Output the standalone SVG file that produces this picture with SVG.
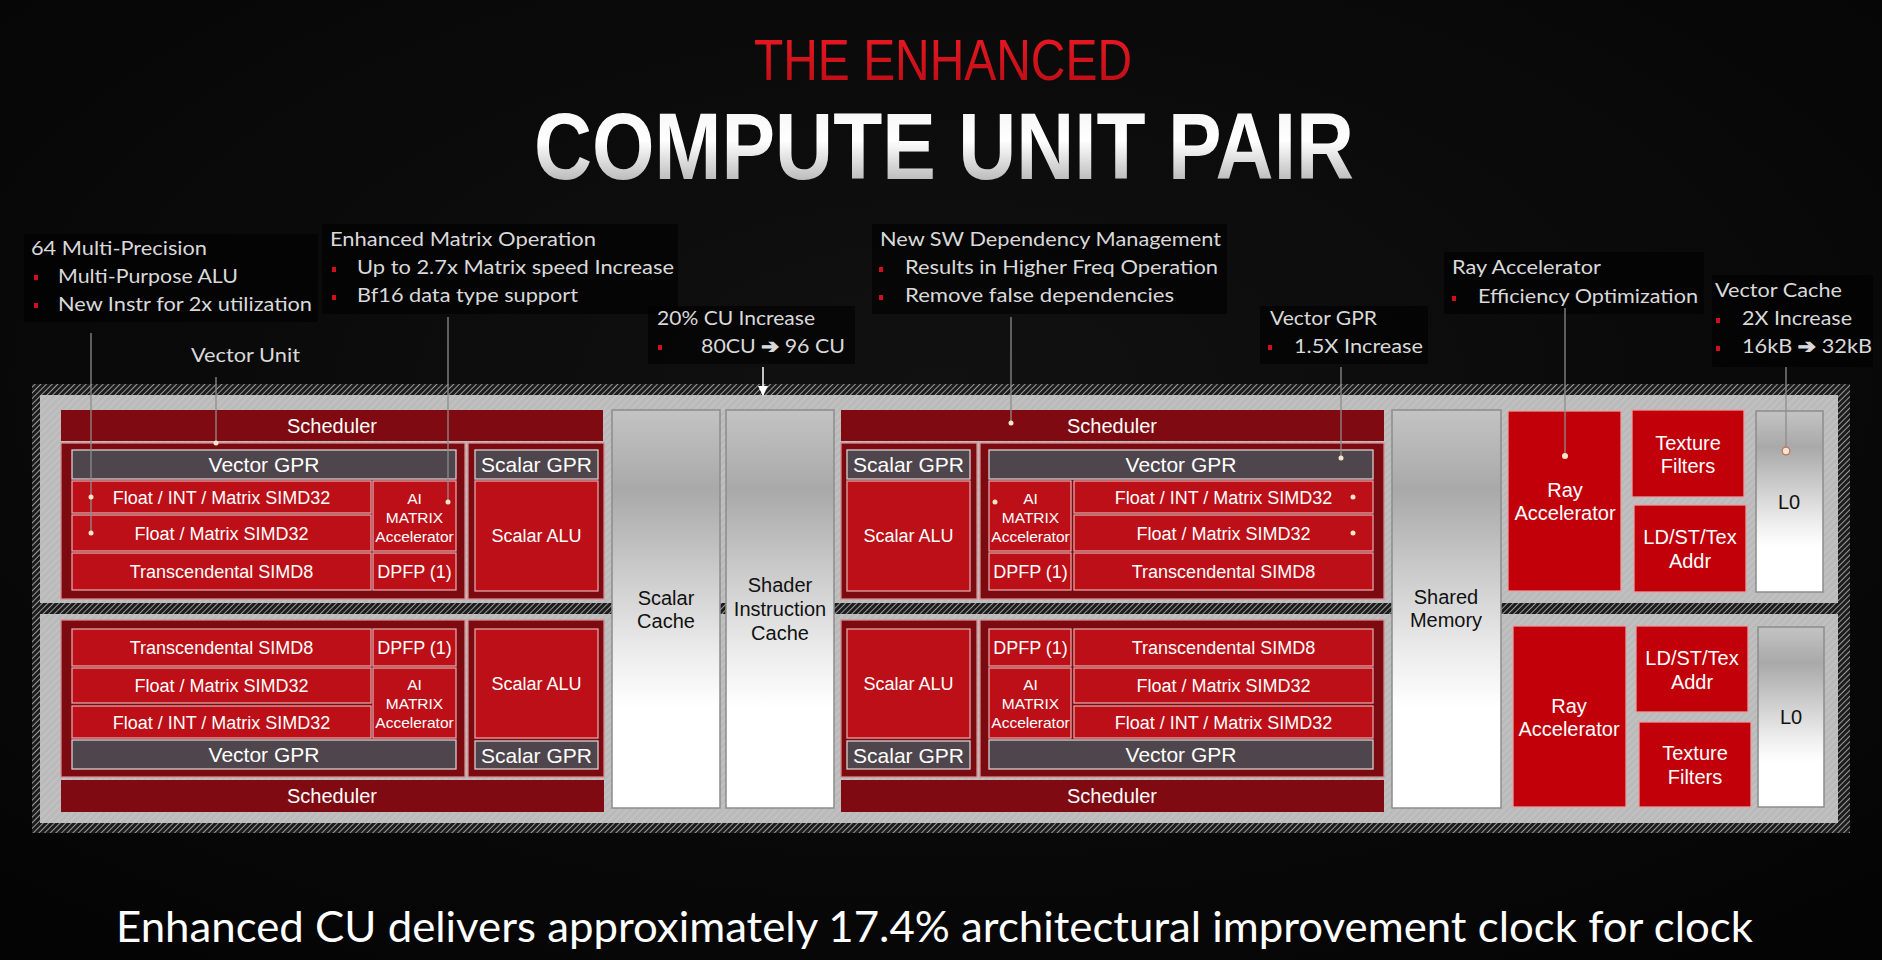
<svg xmlns="http://www.w3.org/2000/svg" width="1882" height="960" viewBox="0 0 1882 960">
<style>
.ann{font-family:Lato,"Open Sans","Liberation Sans",sans-serif;font-size:19.5px;fill:#d9d9d9}
.arr{font-family:"DejaVu Sans",sans-serif;font-weight:bold;stroke:#d9d9d9;stroke-width:1.1}
.bul{fill:#d0101c}
.abox{fill:#000;opacity:0.6}
.bt{font-family:"Liberation Sans",Arial,sans-serif;fill:#fff;text-anchor:middle}
.s18{font-size:18px}
.s21{font-size:21px}
.s20{font-size:20px}
.s15{font-size:15.5px}
.red{fill:#bd0f17;stroke:#e3a3a6;stroke-width:1.3}
.gpr{fill:#4e464c;stroke:#d5cfd2;stroke-width:1.3}
.sched{fill:#7f0a11}
.blk{fill:#7c0a11;stroke:#d88a8e;stroke-width:1.3}
.ext{fill:#c1000a;stroke:#e6a0a4;stroke-width:1.3}
.cache{fill:url(#cacheGrad);stroke:#8c8c8c;stroke-width:1.5}
.ct{font-family:"Liberation Sans",Arial,sans-serif;fill:#111;font-size:20px;text-anchor:middle}
.conn{stroke:#8d8d8d;stroke-width:1.3;fill:none}
.dot{fill:#f6e7c9}
</style>
<defs>
<pattern id="hatch" width="4" height="4" patternUnits="userSpaceOnUse" patternTransform="rotate(45)">
<rect width="4" height="4" fill="#1c1c1c"/>
<line x1="0.5" y1="0" x2="0.5" y2="4" stroke="#9a9a9a" stroke-width="1"/>
</pattern>
<pattern id="panelTex" width="5" height="5" patternUnits="userSpaceOnUse" patternTransform="rotate(45)">
<rect width="5" height="5" fill="#bababa"/>
<line x1="1" y1="0" x2="1" y2="5" stroke="#c6c6c6" stroke-width="1.2"/>
</pattern>
<linearGradient id="cacheGrad" x1="0" y1="0" x2="0" y2="1">
<stop offset="0" stop-color="#c3c3c3"/>
<stop offset="0.2" stop-color="#a9a9a9"/>
<stop offset="0.62" stop-color="#eeeeee"/>
<stop offset="0.75" stop-color="#ffffff"/>
<stop offset="1" stop-color="#ffffff"/>
</linearGradient>
<linearGradient id="titleGrad" x1="0" y1="0" x2="0" y2="1">
<stop offset="0" stop-color="#f2f2f2"/>
<stop offset="0.45" stop-color="#ffffff"/>
<stop offset="1" stop-color="#9c9c9c"/>
</linearGradient>
<linearGradient id="redGrad" x1="0" y1="0" x2="0" y2="1">
<stop offset="0" stop-color="#ee1a24"/>
<stop offset="1" stop-color="#b80c14"/>
</linearGradient>
<radialGradient id="bgGrad" cx="0.5" cy="0.4" r="0.75">
<stop offset="0" stop-color="#111111"/>
<stop offset="1" stop-color="#040404"/>
</radialGradient>
<marker id="arrowW" viewBox="0 0 10 10" refX="9" refY="5" markerWidth="10" markerHeight="10" markerUnits="userSpaceOnUse" orient="auto">
<path d="M0,0 L10,5 L0,10 z" fill="#ffffff"/>
</marker>
</defs>

<rect width="1882" height="960" fill="url(#bgGrad)"/>

<g id="title">
<text x="754" y="80" font-family="'Liberation Sans',Arial,sans-serif" font-size="58" fill="url(#redGrad)" textLength="378" lengthAdjust="spacingAndGlyphs">THE ENHANCED</text>
<text x="534" y="179" font-family="'Liberation Sans',Arial,sans-serif" font-weight="700" font-size="95" fill="url(#titleGrad)" textLength="820" lengthAdjust="spacingAndGlyphs">COMPUTE UNIT PAIR</text>
</g>

<g id="annotations">
<rect class="abox" x="24" y="234" width="294" height="88"/>
<rect class="abox" x="322" y="224" width="356" height="90"/>
<rect class="abox" x="648" y="306" width="207" height="58"/>
<rect class="abox" x="872" y="224" width="355" height="90"/>
<rect class="abox" x="1260" y="306" width="168" height="58"/>
<rect class="abox" x="1444" y="252" width="260" height="62"/>
<rect class="abox" x="1712" y="275" width="161" height="92"/>

<g id="ann-alu">
<text class="ann" x="31" y="255" textLength="176" lengthAdjust="spacingAndGlyphs">64 Multi-Precision</text>
<rect class="bul" x="34" y="275" width="4" height="5"/>
<text class="ann" x="58" y="283" textLength="180" lengthAdjust="spacingAndGlyphs">Multi-Purpose ALU</text>
<rect class="bul" x="34" y="303" width="4" height="5"/>
<text class="ann" x="58" y="311" textLength="254" lengthAdjust="spacingAndGlyphs">New Instr for 2x utilization</text>
</g>
<g id="ann-matrix">
<text class="ann" x="330" y="246" textLength="266" lengthAdjust="spacingAndGlyphs">Enhanced Matrix Operation</text>
<rect class="bul" x="332" y="267" width="4" height="5"/>
<text class="ann" x="357" y="274" textLength="317" lengthAdjust="spacingAndGlyphs">Up to 2.7x Matrix speed Increase</text>
<rect class="bul" x="332" y="295" width="4" height="5"/>
<text class="ann" x="357" y="302" textLength="221" lengthAdjust="spacingAndGlyphs">Bf16 data type support</text>
</g>
<g id="ann-vector-unit">
<text class="ann" x="191" y="362" textLength="109" lengthAdjust="spacingAndGlyphs">Vector Unit</text>
</g>
<g id="ann-cu">
<text class="ann" x="657" y="325" textLength="158" lengthAdjust="spacingAndGlyphs">20% CU Increase</text>
<rect class="bul" x="658" y="345" width="4" height="5"/>
<text class="ann" x="701" y="353" textLength="144" lengthAdjust="spacingAndGlyphs">80CU <tspan class="arr">➔</tspan> 96 CU</text>
</g>
<g id="ann-sw">
<text class="ann" x="880" y="246" textLength="341" lengthAdjust="spacingAndGlyphs">New SW Dependency Management</text>
<rect class="bul" x="879" y="267" width="4" height="5"/>
<text class="ann" x="905" y="274" textLength="313" lengthAdjust="spacingAndGlyphs">Results in Higher Freq Operation</text>
<rect class="bul" x="879" y="295" width="4" height="5"/>
<text class="ann" x="905" y="302" textLength="269" lengthAdjust="spacingAndGlyphs">Remove false dependencies</text>
</g>
<g id="ann-vgpr">
<text class="ann" x="1270" y="325" textLength="107" lengthAdjust="spacingAndGlyphs">Vector GPR</text>
<rect class="bul" x="1268" y="345" width="4" height="5"/>
<text class="ann" x="1294" y="353" textLength="129" lengthAdjust="spacingAndGlyphs">1.5X Increase</text>
</g>
<g id="ann-ray">
<text class="ann" x="1452" y="274" textLength="149" lengthAdjust="spacingAndGlyphs">Ray Accelerator</text>
<rect class="bul" x="1452" y="296" width="4" height="5"/>
<text class="ann" x="1478" y="303" textLength="220" lengthAdjust="spacingAndGlyphs">Efficiency Optimization</text>
</g>
<g id="ann-vcache">
<text class="ann" x="1715" y="297" textLength="127" lengthAdjust="spacingAndGlyphs">Vector Cache</text>
<rect class="bul" x="1716" y="318" width="4" height="5"/>
<text class="ann" x="1742" y="325" textLength="110" lengthAdjust="spacingAndGlyphs">2X Increase</text>
<rect class="bul" x="1716" y="346" width="4" height="5"/>
<text class="ann" x="1742" y="353" textLength="130" lengthAdjust="spacingAndGlyphs">16kB <tspan class="arr">➔</tspan> 32kB</text>
</g>
</g>

<g id="frame">
<rect x="32" y="384" width="1818" height="449" fill="url(#hatch)"/>
<rect x="40" y="395" width="1798" height="208" fill="url(#panelTex)"/>
<rect x="40" y="614" width="1798" height="209" fill="url(#panelTex)"/>
</g>

<!-- Top-left CU -->
<g id="cu-top-left">
<g id="tl-scheduler"><rect class="sched" x="61" y="410" width="542" height="31"/><text class="bt s20" x="332" y="433">Scheduler</text></g>
<rect class="blk" x="61" y="443" width="404" height="156"/>
<rect class="blk" x="468" y="443" width="136" height="156"/>
<g id="tl-vgpr"><rect class="gpr" x="72" y="450" width="384" height="29"/><text class="bt s21" x="264" y="472">Vector GPR</text></g>
<g id="tl-simd1"><rect class="red" x="72" y="481" width="299" height="32"/><text class="bt s18" x="221.5" y="503.5">Float / INT / Matrix SIMD32</text></g>
<g id="tl-simd2"><rect class="red" x="72" y="515" width="299" height="36"/><text class="bt s18" x="221.5" y="539.5">Float / Matrix SIMD32</text></g>
<g id="tl-trans"><rect class="red" x="72" y="553" width="299" height="37"/><text class="bt s18" x="221.5" y="578">Transcendental SIMD8</text></g>
<g id="tl-ai"><rect class="red" x="373" y="481" width="83" height="70"/><text class="bt s15" x="414.5" y="503.5">AI</text><text class="bt s15" x="414.5" y="522.5">MATRIX</text><text class="bt s15" x="414.5" y="541.5">Accelerator</text></g>
<g id="tl-dpfp"><rect class="red" x="373" y="553" width="83" height="37"/><text class="bt s18" x="414.5" y="578">DPFP (1)</text></g>
<g id="tl-sgpr"><rect class="gpr" x="475" y="450" width="123" height="29"/><text class="bt s21" x="536.5" y="472">Scalar GPR</text></g>
<g id="tl-salu"><rect class="red" x="475" y="481" width="123" height="110"/><text class="bt s18" x="536.5" y="542">Scalar ALU</text></g>
</g>

<!-- Top-right CU -->
<g id="cu-top-right">
<g id="tr-scheduler"><rect class="sched" x="841" y="410" width="543" height="31"/><text class="bt s20" x="1112" y="433">Scheduler</text></g>
<rect class="blk" x="841" y="443" width="136" height="156"/>
<rect class="blk" x="980" y="443" width="404" height="156"/>
<g id="tr-sgpr"><rect class="gpr" x="847" y="450" width="123" height="29"/><text class="bt s21" x="908.5" y="472">Scalar GPR</text></g>
<g id="tr-salu"><rect class="red" x="847" y="481" width="123" height="110"/><text class="bt s18" x="908.5" y="542">Scalar ALU</text></g>
<g id="tr-vgpr"><rect class="gpr" x="989" y="450" width="384" height="29"/><text class="bt s21" x="1181" y="472">Vector GPR</text></g>
<g id="tr-ai"><rect class="red" x="989" y="481" width="82" height="70"/><text class="bt s15" x="1030.5" y="503.5">AI</text><text class="bt s15" x="1030.5" y="522.5">MATRIX</text><text class="bt s15" x="1030.5" y="541.5">Accelerator</text></g>
<g id="tr-dpfp"><rect class="red" x="989" y="553" width="82" height="37"/><text class="bt s18" x="1030.5" y="578">DPFP (1)</text></g>
<g id="tr-simd1"><rect class="red" x="1074" y="481" width="299" height="32"/><text class="bt s18" x="1223.5" y="503.5">Float / INT / Matrix SIMD32</text></g>
<g id="tr-simd2"><rect class="red" x="1074" y="515" width="299" height="36"/><text class="bt s18" x="1223.5" y="539.5">Float / Matrix SIMD32</text></g>
<g id="tr-trans"><rect class="red" x="1074" y="553" width="299" height="37"/><text class="bt s18" x="1223.5" y="578">Transcendental SIMD8</text></g>
</g>

<!-- Bottom-left CU -->
<g id="cu-bottom-left">
<rect class="blk" x="61" y="620" width="404" height="157"/>
<rect class="blk" x="468" y="620" width="136" height="157"/>
<g id="bl-trans"><rect class="red" x="72" y="629" width="299" height="37"/><text class="bt s18" x="221.5" y="654">Transcendental SIMD8</text></g>
<g id="bl-dpfp"><rect class="red" x="373" y="629" width="83" height="37"/><text class="bt s18" x="414.5" y="654">DPFP (1)</text></g>
<g id="bl-simd2"><rect class="red" x="72" y="668" width="299" height="35"/><text class="bt s18" x="221.5" y="692">Float / Matrix SIMD32</text></g>
<g id="bl-simd1"><rect class="red" x="72" y="706" width="299" height="32"/><text class="bt s18" x="221.5" y="728.5">Float / INT / Matrix SIMD32</text></g>
<g id="bl-ai"><rect class="red" x="373" y="668" width="83" height="70"/><text class="bt s15" x="414.5" y="689.5">AI</text><text class="bt s15" x="414.5" y="708.5">MATRIX</text><text class="bt s15" x="414.5" y="727.5">Accelerator</text></g>
<g id="bl-vgpr"><rect class="gpr" x="72" y="740" width="384" height="29"/><text class="bt s21" x="264" y="762">Vector GPR</text></g>
<g id="bl-salu"><rect class="red" x="475" y="629" width="123" height="109"/><text class="bt s18" x="536.5" y="690">Scalar ALU</text></g>
<g id="bl-sgpr"><rect class="gpr" x="475" y="741" width="123" height="28"/><text class="bt s21" x="536.5" y="762.5">Scalar GPR</text></g>
<g id="bl-scheduler"><rect class="sched" x="61" y="780" width="543" height="32"/><text class="bt s20" x="332" y="803">Scheduler</text></g>
</g>

<!-- Bottom-right CU -->
<g id="cu-bottom-right">
<rect class="blk" x="841" y="620" width="136" height="157"/>
<rect class="blk" x="980" y="620" width="404" height="157"/>
<g id="br-salu"><rect class="red" x="847" y="629" width="123" height="109"/><text class="bt s18" x="908.5" y="690">Scalar ALU</text></g>
<g id="br-sgpr"><rect class="gpr" x="847" y="741" width="123" height="28"/><text class="bt s21" x="908.5" y="762.5">Scalar GPR</text></g>
<g id="br-dpfp"><rect class="red" x="989" y="629" width="82" height="37"/><text class="bt s18" x="1030.5" y="654">DPFP (1)</text></g>
<g id="br-trans"><rect class="red" x="1074" y="629" width="299" height="37"/><text class="bt s18" x="1223.5" y="654">Transcendental SIMD8</text></g>
<g id="br-ai"><rect class="red" x="989" y="668" width="82" height="70"/><text class="bt s15" x="1030.5" y="689.5">AI</text><text class="bt s15" x="1030.5" y="708.5">MATRIX</text><text class="bt s15" x="1030.5" y="727.5">Accelerator</text></g>
<g id="br-simd2"><rect class="red" x="1074" y="668" width="299" height="35"/><text class="bt s18" x="1223.5" y="692">Float / Matrix SIMD32</text></g>
<g id="br-simd1"><rect class="red" x="1074" y="706" width="299" height="32"/><text class="bt s18" x="1223.5" y="728.5">Float / INT / Matrix SIMD32</text></g>
<g id="br-vgpr"><rect class="gpr" x="989" y="740" width="384" height="29"/><text class="bt s21" x="1181" y="762">Vector GPR</text></g>
<g id="br-scheduler"><rect class="sched" x="841" y="780" width="543" height="32"/><text class="bt s20" x="1112" y="803">Scheduler</text></g>
</g>

<!-- Shared columns -->
<g id="scalar-cache"><rect class="cache" x="612" y="410" width="108" height="398"/><text class="ct" x="666" y="605">Scalar</text><text class="ct" x="666" y="628">Cache</text></g>
<g id="shader-cache"><rect class="cache" x="726" y="410" width="108" height="398"/><text class="ct" x="780" y="592">Shader</text><text class="ct" x="780" y="616">Instruction</text><text class="ct" x="780" y="640">Cache</text></g>
<g id="shared-memory"><rect class="cache" x="1392" y="410" width="109" height="398"/><text class="ct" x="1446" y="604">Shared</text><text class="ct" x="1446" y="627">Memory</text></g>

<!-- Texture / ray units -->
<g id="ray-top"><rect class="ext" x="1508" y="411" width="113" height="180"/><text class="bt s20" x="1565" y="497">Ray</text><text class="bt s20" x="1565" y="520">Accelerator</text></g>
<g id="tex-top"><rect class="ext" x="1632" y="410" width="112" height="87"/><text class="bt s20" x="1688" y="450">Texture</text><text class="bt s20" x="1688" y="473">Filters</text></g>
<g id="ldst-top"><rect class="ext" x="1634" y="505" width="112" height="87"/><text class="bt s20" x="1690" y="544">LD/ST/Tex</text><text class="bt s20" x="1690" y="568">Addr</text></g>
<g id="l0-top"><rect class="cache" x="1756" y="411" width="67" height="181"/><text class="ct" x="1789" y="509">L0</text></g>
<g id="ray-bottom"><rect class="ext" x="1513" y="626" width="113" height="181"/><text class="bt s20" x="1569" y="713">Ray</text><text class="bt s20" x="1569" y="736">Accelerator</text></g>
<g id="ldst-bottom"><rect class="ext" x="1636" y="626" width="112" height="86"/><text class="bt s20" x="1692" y="665">LD/ST/Tex</text><text class="bt s20" x="1692" y="689">Addr</text></g>
<g id="tex-bottom"><rect class="ext" x="1639" y="722" width="112" height="85"/><text class="bt s20" x="1695" y="760">Texture</text><text class="bt s20" x="1695" y="784">Filters</text></g>
<g id="l0-bottom"><rect class="cache" x="1758" y="627" width="66" height="180"/><text class="ct" x="1791" y="724">L0</text></g>

<g id="connectors">
<line class="conn" x1="91" y1="333" x2="91" y2="533"/>
<line class="conn" x1="216" y1="377" x2="216" y2="443"/>
<line class="conn" x1="448" y1="317" x2="448" y2="502"/>
<line x1="763" y1="367" x2="763" y2="395" stroke="#ffffff" stroke-width="1.5" marker-end="url(#arrowW)"/>
<line class="conn" x1="1011" y1="317" x2="1011" y2="423"/>
<line class="conn" x1="1341" y1="367" x2="1341" y2="458"/>
<line class="conn" x1="1565" y1="308" x2="1565" y2="456"/>
<line class="conn" x1="1786" y1="367" x2="1786" y2="447"/>
<circle class="dot" cx="91" cy="497" r="2.5"/>
<circle class="dot" cx="91" cy="533" r="2.5"/>
<circle class="dot" cx="216" cy="443" r="2.5"/>
<circle class="dot" cx="448" cy="502" r="2.5"/>
<circle class="dot" cx="1011" cy="423" r="2.5"/>
<circle class="dot" cx="1341" cy="458" r="2.5"/>
<circle class="dot" cx="1565" cy="456" r="3"/>
<circle class="dot" cx="1353" cy="497" r="2.5"/>
<circle class="dot" cx="1353" cy="533" r="2.5"/>
<circle class="dot" cx="995" cy="502" r="2.5"/>
<circle cx="1786" cy="451" r="3.8" fill="#f6e4d6" stroke="#c07850" stroke-width="1.3"/>
</g>

<g id="footer">
<text x="116" y="942" font-family="Lato,'Open Sans',sans-serif" font-size="42" fill="#ffffff" textLength="1637" lengthAdjust="spacingAndGlyphs">Enhanced CU delivers approximately 17.4% architectural improvement clock for clock</text>
</g>
</svg>
